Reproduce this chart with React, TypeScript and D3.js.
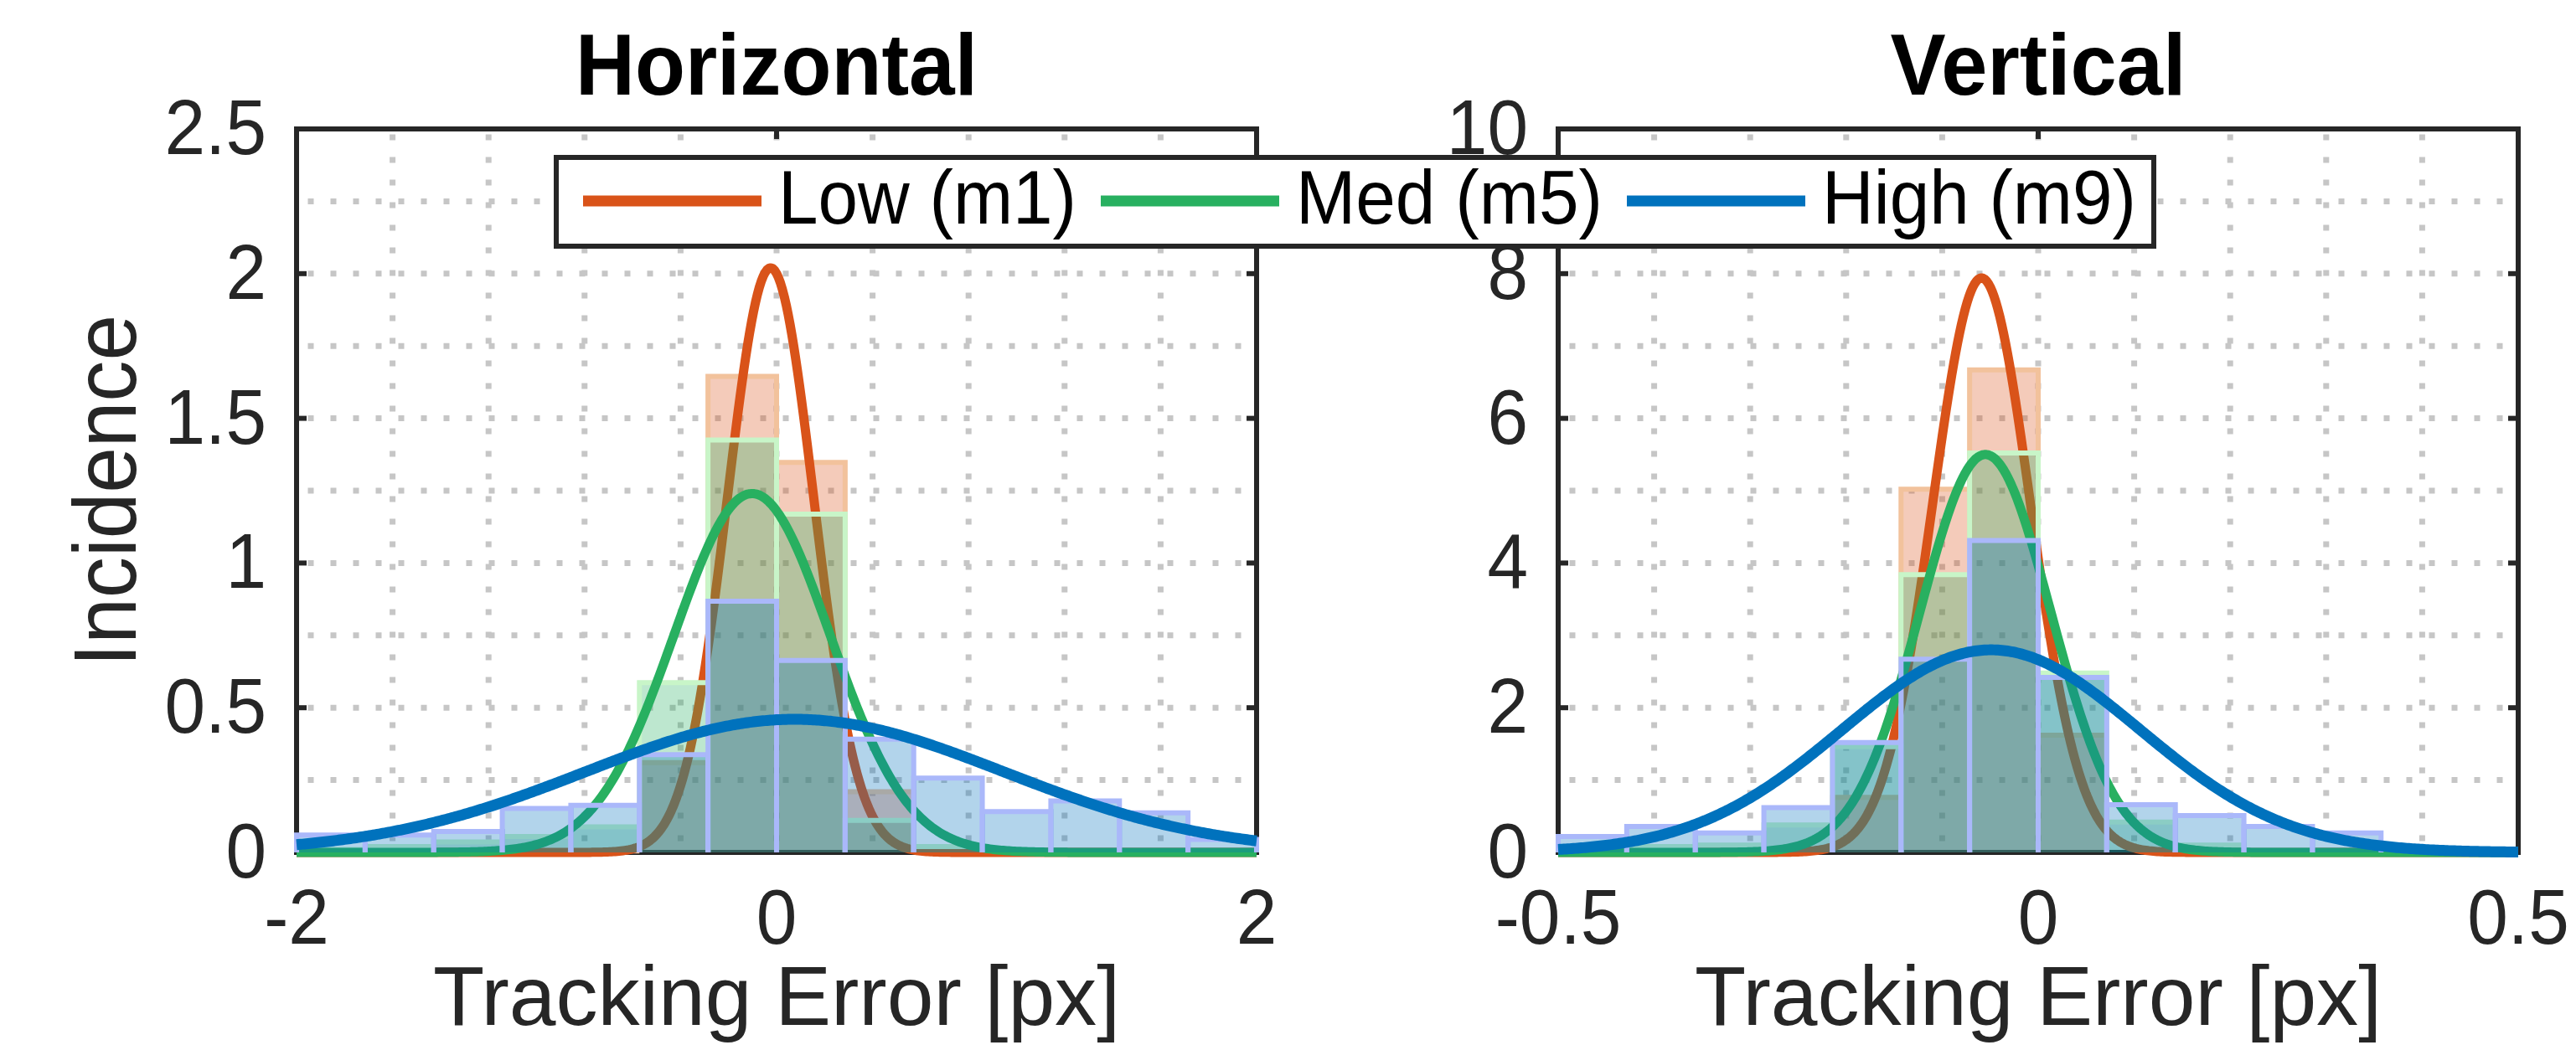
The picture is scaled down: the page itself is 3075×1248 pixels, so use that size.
import React from 'react';
import * as d3 from 'd3';

// ---- series (shared by both panels) ----
const seriesNames = ['Low (m1)', 'Med (m5)', 'High (m9)'];
const lineColors = ['#D95319', '#28B060', '#0072BD'];
const faceColors = ['rgba(217,83,25,0.3)', 'rgba(38,176,95,0.3)', 'rgba(0,114,189,0.3)'];
const edgeColors = ['#F2C29C', '#C8F5C8', '#AAB8FA'];

// ---- Horizontal panel: histogram bins (pdf), 14 bins over [-2, 2] ----
const hBinStart = -2;
const hBinWidth = 4 / 14;
const hLow = [0, 0, 0, 0, 0.005, 0.31, 1.645, 1.348, 0.21, 0, 0, 0, 0, 0];
const hMed = [0.01, 0.02, 0.036, 0.055, 0.088, 0.587, 1.425, 1.169, 0.111, 0.02, 0, 0, 0, 0];
const hHigh = [0.06, 0.06, 0.072, 0.152, 0.163, 0.338, 0.868, 0.663, 0.391, 0.257, 0.141, 0.178, 0.137, 0.045];
// normal fits: [mean, sigma, peak]
const hFits = [
  [-0.025, 0.18, 2.02],
  [-0.102, 0.325, 1.24],
  [0.075, 0.87, 0.46],
];
const hXTicks = [-2, 0, 2];
const hXTickLabels = ['-2', '0', '2'];
const hXMinor = [-1.6, -1.2, -0.8, -0.4, 0.4, 0.8, 1.2, 1.6];
const hYTicks = [0, 0.5, 1, 1.5, 2, 2.5];
const hYTickLabels = ['0', '0.5', '1', '1.5', '2', '2.5'];
const hYMinor = [0.25, 0.75, 1.25, 1.75, 2.25];

// ---- Vertical panel: 12 bins of width 1/14 starting at -0.5 ----
const vBinStart = -0.5;
const vBinWidth = 1 / 14;
const vLow = [0, 0, 0, 0, 0.76, 5.02, 6.67, 1.62, 0, 0, 0, 0];
const vMed = [0.03, 0.08, 0.1, 0.38, 1.46, 3.84, 5.52, 2.48, 0.42, 0.1, 0.03, 0];
const vHigh = [0.22, 0.36, 0.27, 0.62, 1.52, 2.67, 4.31, 2.42, 0.66, 0.51, 0.36, 0.27];
const vFits = [
  [-0.059, 0.051, 7.94],
  [-0.055, 0.068, 5.5],
  [-0.049, 0.155, 2.8],
];
const vXTicks = [-0.5, 0, 0.5];
const vXTickLabels = ['-0.5', '0', '0.5'];
const vXMinor = [-0.4, -0.3, -0.2, -0.1, 0.1, 0.2, 0.3, 0.4];
const vYTicks = [0, 2, 4, 6, 8, 10];
const vYTickLabels = ['0', '2', '4', '6', '8', '10'];
const vYMinor = [1, 3, 5, 7, 9];

const FONT = '"Liberation Sans", Arial, Helvetica, sans-serif';
const AXIS = '#262626';
const GRID = '#c6c6c6';

const TOP = 154;
const BOTTOM = 1018;

function Txt(props: any) {
  const { x, y, size, anchor = 'start', width, weight = 'normal', fill = AXIS, rotate = 0, sx = 1, children } = props;
  return (
    <g transform={`translate(${x},${y}) rotate(${rotate}) scale(${sx},1)`}>
      <text
        x={0}
        y={0}
        fontFamily={FONT}
        fontSize={size}
        fontWeight={weight}
        textAnchor={anchor}
        fill={fill}
        textLength={width}
        lengthAdjust={width ? 'spacingAndGlyphs' : undefined}
      >
        {children}
      </text>
    </g>
  );
}

function Panel(props: any) {
  const {
    x0, x1, xDomain, yDomain, xTicks, xTickLabels, xMinor, yTicks, yTickLabels, yMinor,
    binStart, binWidth, bins, fits, title, titleWidth, yLabel,
  } = props;
  const x = d3.scaleLinear().domain(xDomain).range([x0, x1]);
  const y = d3.scaleLinear().domain(yDomain).range([BOTTOM, TOP]);
  const tick = 12;

  const samples = d3.range(0, 501).map((i) => xDomain[0] + (i / 500) * (xDomain[1] - xDomain[0]));
  const line = d3.line<number[]>().x((d) => x(d[0])).y((d) => y(d[1])).curve(d3.curveLinear);

  const gridX = [...xTicks.slice(1, -1), ...xMinor];
  const gridY = [...yTicks.slice(1, -1), ...yMinor];

  return (
    <g>
      {/* grid */}
      {gridY.map((v: number) => (
        <line key={'gy' + v} x1={x0} x2={x1} y1={y(v)} y2={y(v)} stroke={GRID} strokeWidth={7}
          strokeDasharray="7 20" strokeDashoffset={13.5} />
      ))}
      {gridX.map((v: number) => (
        <line key={'gx' + v} x1={x(v)} x2={x(v)} y1={BOTTOM} y2={TOP} stroke={GRID} strokeWidth={7}
          strokeDasharray="7 20" strokeDashoffset={13.5} />
      ))}

      {/* box + ticks */}
      <rect x={x0} y={TOP} width={x1 - x0} height={BOTTOM - TOP} fill="none" stroke={AXIS} strokeWidth={6} />
      {yTicks.map((v: number) => (
        <g key={'ty' + v}>
          <line x1={x0} x2={x0 + tick} y1={y(v)} y2={y(v)} stroke={AXIS} strokeWidth={6} />
          <line x1={x1} x2={x1 - tick} y1={y(v)} y2={y(v)} stroke={AXIS} strokeWidth={6} />
        </g>
      ))}
      {xTicks.map((v: number) => (
        <g key={'tx' + v}>
          <line x1={x(v)} x2={x(v)} y1={BOTTOM} y2={BOTTOM - tick} stroke={AXIS} strokeWidth={6} />
          <line x1={x(v)} x2={x(v)} y1={TOP} y2={TOP + tick} stroke={AXIS} strokeWidth={6} />
        </g>
      ))}

      {/* histograms and fits, drawn series by series */}
      {bins.map((vals: number[], s: number) => {
        const f = fits[s];
        const pts = samples.map((t: number) => [t, f[2] * Math.exp(-((t - f[0]) ** 2) / (2 * f[1] * f[1]))]);
        return (
          <g key={'s' + s}>
            {vals.map((h: number, i: number) => {
              if (h <= 0) return null;
              const bx0 = x(binStart + i * binWidth);
              const bx1 = x(binStart + (i + 1) * binWidth);
              const by = y(h);
              return (
                <g key={'b' + i}>
                  <rect x={bx0} y={by} width={bx1 - bx0} height={BOTTOM - by} fill={faceColors[s]} />
                  <path d={`M${bx0},${BOTTOM}V${by}H${bx1}V${BOTTOM}`} fill="none" stroke={edgeColors[s]} strokeWidth={6} />
                </g>
              );
            })}
            <path d={line(pts) || ''} fill="none" stroke={lineColors[s]} strokeWidth={s === 2 ? 13 : 11}
              strokeLinejoin="round" />
          </g>
        );
      })}

      {/* tick labels */}
      {yTicks.map((v: number, i: number) => (
        <Txt key={'ly' + v} x={x0 - 36} y={y(v) + 30} size={92} anchor="end" sx={0.95}>{yTickLabels[i]}</Txt>
      ))}
      {xTicks.map((v: number, i: number) => (
        <Txt key={'lx' + v} x={x(v)} y={1127} size={92} anchor="middle" sx={0.95}>{xTickLabels[i]}</Txt>
      ))}

      <Txt x={(x0 + x1) / 2} y={1224} size={100} anchor="middle" width={820}>Tracking Error [px]</Txt>
      <Txt x={(x0 + x1) / 2} y={113} size={103} anchor="middle" width={titleWidth} weight="bold" fill="#000">{title}</Txt>
      {yLabel && (
        <Txt x={162} y={(TOP + BOTTOM) / 2} size={106} anchor="middle" width={420} rotate={-90}>{yLabel}</Txt>
      )}
    </g>
  );
}

function Legend() {
  const left = 664;
  const right = 2571;
  const top = 188;
  const bottom = 294;
  const textWidths = [356, 366, 375];
  const items: { lx: number; tx: number }[] = [];
  let cx = left + 32;
  textWidths.forEach((w, i) => {
    items.push({ lx: cx, tx: cx + 233 });
    cx = cx + 233 + w + 29;
  });
  return (
    <g>
      <rect x={left} y={top} width={right - left} height={bottom - top} fill="#fff" stroke={AXIS} strokeWidth={6} />
      {seriesNames.map((name, i) => (
        <g key={name}>
          <line x1={items[i].lx} x2={items[i].lx + 213} y1={240} y2={240} stroke={lineColors[i]} strokeWidth={13} />
          <Txt x={items[i].tx} y={267} size={90} width={textWidths[i]} fill="#000">{name}</Txt>
        </g>
      ))}
    </g>
  );
}

export default function App() {
  return (
    <svg width={3075} height={1248} style={{ position: 'absolute', left: 0, top: 0, background: '#fff' }}>
      <rect x={0} y={0} width={3075} height={1248} fill="#fff" />
      <Panel
        x0={354} x1={1500} xDomain={[-2, 2]} yDomain={[0, 2.5]}
        xTicks={hXTicks} xTickLabels={hXTickLabels} xMinor={hXMinor}
        yTicks={hYTicks} yTickLabels={hYTickLabels} yMinor={hYMinor}
        binStart={hBinStart} binWidth={hBinWidth} bins={[hLow, hMed, hHigh]} fits={hFits}
        title="Horizontal" titleWidth={480} yLabel="Incidence"
      />
      <Panel
        x0={1860} x1={3006} xDomain={[-0.5, 0.5]} yDomain={[0, 10]}
        xTicks={vXTicks} xTickLabels={vXTickLabels} xMinor={vXMinor}
        yTicks={vYTicks} yTickLabels={vYTickLabels} yMinor={vYMinor}
        binStart={vBinStart} binWidth={vBinWidth} bins={[vLow, vMed, vHigh]} fits={vFits}
        title="Vertical" titleWidth={353}
      />
      <Legend />
    </svg>
  );
}
